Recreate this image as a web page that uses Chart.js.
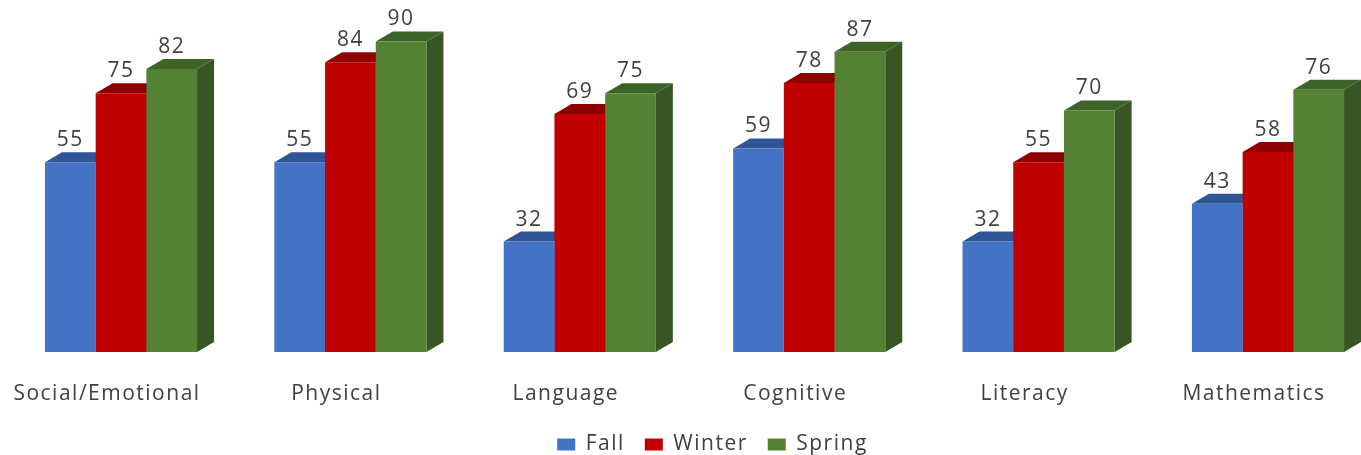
<!DOCTYPE html>
<html>
<head>
<meta charset="utf-8">
<script src="https://cdn.jsdelivr.net/npm/chart.js@4.4.1/dist/chart.umd.min.js"></script>
<style>
  html, body { margin: 0; padding: 0; background: #fff; }
  #wrap { width: 1361px; height: 455px; }
</style>
</head>
<body>
<div id="wrap"><canvas id="mycanvas"></canvas></div>
<script>
var categories = ['Social/Emotional', 'Physical', 'Language', 'Cognitive', 'Literacy', 'Mathematics'];
var fall = [55, 55, 32, 59, 32, 43];
var winter = [75, 84, 69, 78, 55, 58];
var spring = [82, 90, 75, 87, 70, 76];

var seriesNames = ['Fall', 'Winter', 'Spring'];
var frontColors = ['#4472C4', '#C00000', '#548235'];
var topColors = ['#2F5597', '#8E0000', '#3D6327'];
var sideColors = ['#2A4C86', '#7A0000', '#375623'];

var DX = 17, DY = 10;

// wider lettering, like the original
var spacingPlugin = {
    id: 'spacing',
    beforeUpdate: function(chart) { chart.ctx.letterSpacing = '1.5px'; },
    beforeDraw: function(chart) { chart.ctx.letterSpacing = '1.5px'; },
    afterLayout: function(chart) {
        // legend sits a bit right of centre in the original
        chart.legend.left += 18;
        chart.legend.right += 18;
    }
};

// top and side faces go behind the front faces, value labels on top
var depthPlugin = {
    id: 'depth',
    beforeDatasetsDraw: function(chart) {
        var ctx = chart.ctx;
        ctx.save();
        for (var d = 0; d < chart.data.datasets.length; d++) {
            var meta = chart.getDatasetMeta(d);
            meta.data.forEach(function(bar) {
                var l = bar.x - bar.width / 2, r = bar.x + bar.width / 2;
                var t = bar.y, b = bar.base;
                ctx.fillStyle = sideColors[d];
                ctx.beginPath();
                ctx.moveTo(r, t);
                ctx.lineTo(r + DX, t - DY);
                ctx.lineTo(r + DX, b - DY);
                ctx.lineTo(r, b);
                ctx.closePath();
                ctx.fill();
                ctx.fillStyle = topColors[d];
                ctx.beginPath();
                ctx.moveTo(l, t);
                ctx.lineTo(r, t);
                ctx.lineTo(r + DX, t - DY);
                ctx.lineTo(l + DX, t - DY);
                ctx.closePath();
                ctx.fill();
            });
        }
        ctx.restore();
    },
    afterDatasetsDraw: function(chart) {
        var ctx = chart.ctx;
        ctx.save();
        ctx.font = '21px "Open Sans"';
        ctx.fillStyle = '#404040';
        ctx.textAlign = 'center';
        ctx.textBaseline = 'middle';
        for (var d = 0; d < chart.data.datasets.length; d++) {
            var meta = chart.getDatasetMeta(d);
            var vals = chart.data.datasets[d].data;
            meta.data.forEach(function(bar, j) {
                ctx.fillText(vals[j], bar.x, bar.y - 22);
            });
        }
        ctx.restore();
    }
};

var chartdata = {
    labels: categories,
    datasets: [fall, winter, spring].map(function(vals, i) {
        return {
            label: seriesNames[i],
            data: vals,
            backgroundColor: frontColors[i],
            borderWidth: 0,
            clip: false,
            categoryPercentage: 0.663,
            barPercentage: 1.0
        };
    })
};

var ctx = document.getElementById('mycanvas');

var barGraph = new Chart(ctx, {
    type: 'bar',
    data: chartdata,
    plugins: [spacingPlugin, depthPlugin],
    options: {
        responsive: true,
        maintainAspectRatio: false,
        animation: false,
        layout: { padding: { left: 121, right: 93, top: 7, bottom: -10 } },
        plugins: {
            tooltip: { enabled: false },
            legend: {
                position: 'bottom',
                labels: {
                    font: { family: 'Open Sans', size: 21 },
                    color: '#404040',
                    boxWidth: 18,
                    boxHeight: 12,
                    padding: 20
                }
            }
        },
        scales: {
            x: {
                offset: false,
                grid: { display: false, drawTicks: false },
                border: { display: false },
                afterFit: function(scale) {
                    scale.height = 62;
                    scale.paddingLeft = 0;
                    scale.paddingRight = 0;
                },
                ticks: {
                    autoSkip: false,
                    maxRotation: 0,
                    padding: 29,
                    labelOffset: -14,
                    color: '#404040',
                    font: { family: 'Open Sans', size: 21 }
                }
            },
            y: {
                display: false,
                min: 0,
                max: 100
            }
        }
    }
});
</script>
</body>
</html>
